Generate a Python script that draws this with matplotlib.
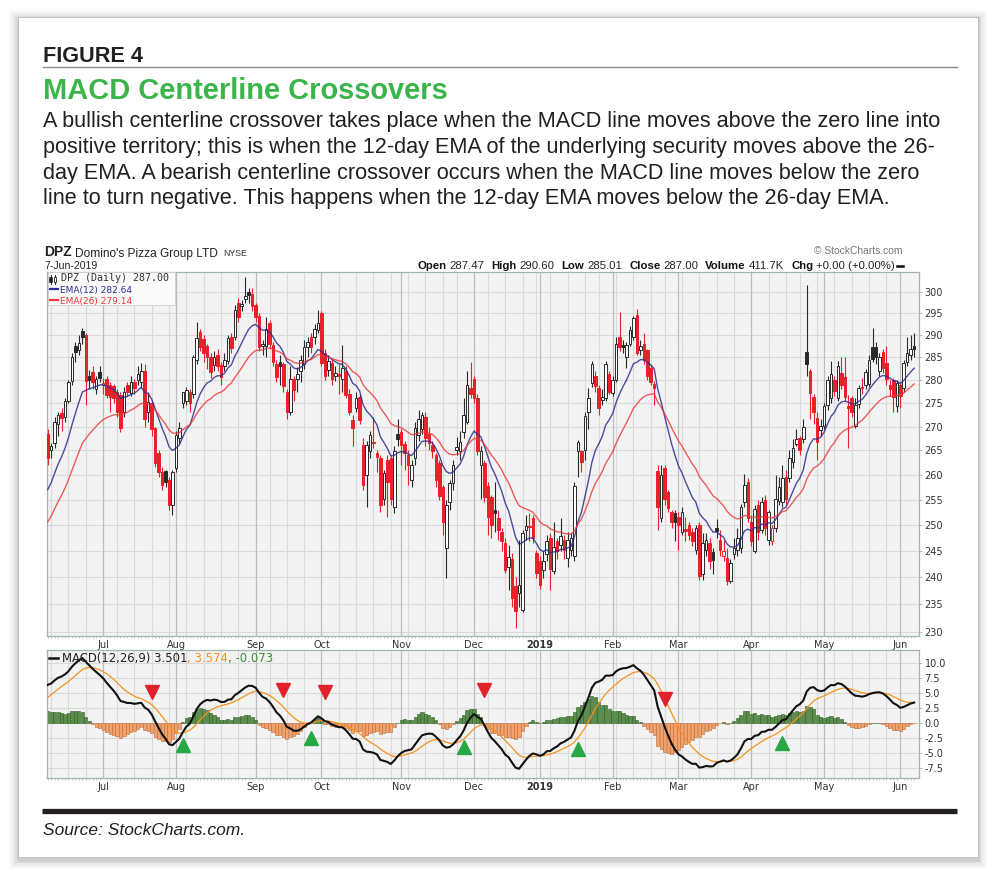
import numpy as np
import pandas as pd
import matplotlib
matplotlib.use("Agg")
import matplotlib.pyplot as plt
from matplotlib.patches import Rectangle
from matplotlib.lines import Line2D
from matplotlib.ticker import FixedLocator, FixedFormatter, NullLocator, NullFormatter
import warnings
import logging
warnings.filterwarnings("ignore")
logging.getLogger("matplotlib.font_manager").setLevel(logging.ERROR)

# ------------------------------------------------------------------ data
holidays = ["2018-07-04", "2018-09-03", "2018-11-22", "2018-12-05", "2018-12-25",
            "2019-01-01", "2019-01-21", "2019-02-18", "2019-04-19", "2019-05-27"]
dates = pd.bdate_range("2018-06-08", "2019-06-07", freq="C", holidays=holidays)

opens = [268.5, 265.0, 266.5, 270.5, 272.8, 272.0, 275.4, 279.8, 287.5, 286.6,
         291.0, 290.0, 281.0, 281.7, 278.0, 281.7, 279.0, 280.3, 278.9, 278.6,
         277.5, 276.8, 273.0, 279.0, 277.2, 279.5, 280.0, 279.6, 282.0, 273.2,
         275.0, 269.6, 264.5, 260.5, 260.8, 259.0, 254.0, 261.3, 267.5, 275.0,
         275.5, 277.5, 277.0, 284.5, 290.8, 289.2, 287.5, 285.2, 283.4, 285.5,
         283.4, 283.1, 284.1, 289.6, 289.6, 297.5, 296.6, 298.3, 300.0, 299.5,
         297.0, 294.5, 287.6,
         287.6, 292.8, 287.8, 283.6, 284.0, 283.6, 277.5,
         273.0, 280.3, 280.3, 282.0, 283.5, 287.3, 289.6, 289.6, 291.2, 295.0,
         285.9, 282.3, 283.7, 280.8, 281.2, 280.3, 282.0, 277.0, 271.3, 274.0,
         276.4, 266.1, 260.0, 264.8, 266.8, 264.4, 263.4, 255.2, 263.0, 263.4,
         253.6, 268.5, 268.8, 266.4, 264.0, 259.0, 263.4, 268.2, 269.5, 272.1,
         268.5, 266.1, 264.0, 262.5, 257.5, 245.5, 254.5, 258.3, 265.1, 264.8,
         268.9, 270.9, 278.3, 280.3, 276.0, 262.0,
         262.4, 257.7, 255.5, 253.0,
         251.3, 248.7, 246.5, 242.0, 243.5, 238.4, 237.0, 234.0, 249.0, 249.8,
         251.3, 244.6, 243.0, 241.4, 244.3, 247.5, 241.1, 246.8, 246.2, 247.1,
         243.7, 245.1, 244.0, 264.8, 264.8, 265.1, 273.2, 279.3, 281.0, 278.2,
         275.7, 276.1, 281.4, 277.2, 280.0, 289.6, 287.7, 285.1, 288.1, 289.6,
         294.7, 286.7, 288.1, 286.6, 282.7, 279.2, 260.7, 251.3, 261.3, 256.5,
         252.6, 252.3, 251.6, 248.7, 249.2, 250.0, 248.7, 245.2, 250.0, 240.5,
         245.1, 246.5, 244.8, 249.4, 247.0, 244.0, 243.6, 239.2, 244.3, 245.1,
         245.5, 254.5, 258.6, 250.6, 245.0, 254.0, 249.0, 255.0, 247.0, 246.8,
         249.4, 254.8, 254.5, 259.6, 259.3, 262.7, 266.4, 267.5, 267.3, 286.3,
         282.1, 276.4, 271.8, 269.2, 270.2, 274.6, 276.1, 280.0, 276.1, 281.5,
         280.7, 274.3, 276.0, 270.2, 274.8, 278.5, 279.0, 279.1, 287.3, 287.3,
         282.0, 286.3, 283.7, 279.0, 280.0, 274.4, 279.0, 278.2, 284.0, 285.5,
         287.47]

highs = [269.5, 266.5, 272.0, 273.0, 274.0, 276.0, 280.0, 286.0, 288.5, 290.0,
         291.6, 290.5, 282.2, 283.0, 281.0, 283.0, 280.5, 281.0, 279.5, 279.2,
         278.0, 277.5, 278.5, 279.6, 281.0, 280.2, 283.0, 283.8, 283.5, 277.5,
         275.5, 270.0, 265.0, 261.5, 261.0, 259.5, 261.0, 269.0, 271.0, 277.5,
         278.5, 278.0, 285.5, 293.0, 291.5, 290.0, 288.0, 286.0, 286.5, 286.8,
         284.0, 286.0, 290.0, 290.5, 297.0, 298.5, 298.0, 303.4, 301.0, 301.0,
         297.5, 295.0, 289.0,
         294.2, 293.5, 288.5, 284.5, 285.5, 284.0, 278.0,
         283.0, 281.0, 282.8, 285.5, 289.0, 289.5, 290.5, 292.5, 295.8, 295.5,
         287.0, 285.5, 284.5, 283.0, 283.5, 287.8, 283.0, 278.0, 272.5, 277.5,
         277.0, 267.5, 267.0, 269.0, 272.0, 265.0, 264.0, 261.0, 264.0, 264.0,
         266.0, 271.5, 269.5, 267.0, 265.0, 263.0, 271.0, 273.5, 273.2, 273.0,
         270.0, 267.0, 264.5, 263.0, 258.0, 255.0, 259.0, 263.0, 267.9, 269.0,
         276.0, 282.0, 284.0, 281.0, 277.0, 266.0,
         263.0, 258.5, 256.0, 258.5,
         253.0, 249.5, 247.5, 246.2, 244.5, 240.0, 247.0, 249.0, 252.0, 252.4,
         252.0, 245.2, 244.0, 244.9, 248.0, 248.5, 250.6, 247.5, 251.3, 248.0,
         248.7, 248.5, 258.5, 267.2, 265.0, 273.0, 278.2, 284.3, 282.0, 279.0,
         278.0, 284.2, 282.0, 281.0, 289.5, 295.4, 289.0, 288.5, 292.0, 294.5,
         296.0, 289.0, 290.4, 287.0, 283.5, 279.8, 262.0, 262.0, 262.0, 257.0,
         253.0, 253.0, 252.5, 253.5, 251.6, 250.5, 249.5, 250.0, 250.6, 248.5,
         248.5, 247.5, 245.5, 251.2, 249.0, 247.0, 245.5, 243.5, 247.5, 249.4,
         254.2, 260.2, 259.3, 252.0, 254.0, 255.0, 255.5, 256.0, 253.0, 250.0,
         260.0, 259.5, 262.0, 261.0, 265.0, 267.3, 269.5, 268.0, 271.5, 301.7,
         282.5, 277.0, 273.0, 271.5, 275.0, 281.0, 284.1, 281.0, 284.2, 285.0,
         285.0, 276.8, 276.5, 276.0, 279.0, 280.5, 282.5, 285.5, 291.6, 288.5,
         286.0, 287.0, 287.5, 280.0, 280.5, 280.0, 279.5, 284.5, 289.5, 290.0,
         290.60]

lows = [262.0, 263.5, 265.5, 268.0, 269.0, 271.0, 275.0, 279.0, 284.0, 285.5,
        288.0, 274.6, 278.0, 278.0, 277.0, 279.5, 277.0, 276.0, 273.2, 275.0,
        272.0, 268.8, 272.0, 276.5, 276.5, 277.0, 279.0, 278.5, 270.0, 271.0,
        268.0, 261.5, 259.5, 257.0, 257.5, 253.0, 252.0, 260.5, 266.5, 274.0,
        274.5, 273.0, 276.0, 283.5, 286.5, 284.0, 282.4, 280.5, 282.0, 282.0,
        279.0, 282.0, 283.5, 286.0, 289.0, 293.0, 295.5, 297.5, 297.5, 295.5,
        293.0, 286.5, 285.5,
        285.2, 287.0, 283.0, 279.5, 279.0, 277.5, 271.5,
        272.5, 275.5, 277.5, 279.5, 282.5, 285.0, 286.0, 288.0, 290.5, 283.0,
        280.0, 281.0, 279.0, 279.8, 277.0, 277.5, 276.0, 272.5, 266.0, 273.0,
        270.5, 257.0, 253.6, 263.5, 265.5, 260.5, 252.5, 254.0, 251.6, 254.0,
        252.4, 266.0, 262.0, 261.0, 258.0, 257.5, 262.0, 267.0, 268.5, 266.0,
        265.0, 263.5, 257.5, 255.0, 248.1, 239.8, 253.0, 257.0, 264.0, 263.0,
        267.5, 270.5, 276.0, 275.0, 264.0, 255.2,
        254.5, 248.0, 247.5, 248.7,
        247.0, 245.0, 240.8, 237.6, 234.5, 230.6, 234.5, 233.5, 247.0, 246.8,
        246.5, 239.8, 237.7, 239.8, 243.0, 237.6, 240.5, 243.5, 245.0, 243.5,
        242.0, 244.0, 243.0, 259.6, 260.5, 263.0, 269.5, 278.5, 277.5, 272.4,
        274.5, 275.5, 277.0, 276.5, 279.5, 286.5, 286.0, 282.7, 287.5, 289.0,
        285.5, 285.5, 283.5, 280.0, 279.0, 274.6, 249.0, 250.5, 254.0, 252.5,
        249.5, 246.8, 245.2, 248.0, 246.8, 247.0, 246.0, 244.3, 239.5, 239.5,
        244.0, 241.5, 240.5, 247.5, 244.0, 243.0, 238.6, 238.9, 243.5, 244.0,
        244.5, 253.5, 250.5, 246.0, 244.5, 247.0, 248.5, 248.0, 246.2, 246.2,
        248.7, 254.0, 253.5, 254.2, 258.6, 261.3, 266.0, 264.0, 266.5, 281.0,
        271.5, 270.5, 263.0, 268.0, 269.5, 273.5, 275.0, 276.5, 275.5, 278.0,
        275.5, 265.6, 272.0, 269.7, 274.0, 277.0, 278.0, 278.5, 284.0, 283.5,
        281.0, 281.5, 279.0, 276.5, 273.2, 273.0, 274.0, 277.5, 283.0, 284.5,
        285.01]

closes = [263.5, 266.0, 271.0, 272.4, 271.9, 275.4, 279.6, 285.2, 286.3, 288.2,
          289.6, 279.8, 280.0, 279.5, 280.3, 280.5, 279.3, 276.8, 276.3, 276.0,
          273.2, 269.6, 277.5, 277.3, 279.6, 278.2, 281.3, 282.0, 271.5, 275.3,
          269.5, 262.5, 260.5, 258.0, 258.5, 254.0, 260.6, 268.2, 269.8, 277.3,
          277.8, 275.0, 285.0, 289.3, 287.4, 285.9, 285.0, 281.7, 285.1, 283.1,
          280.7, 284.5, 289.3, 287.2, 295.8, 294.2, 297.1, 299.1, 299.2, 296.6,
          294.2, 287.4, 288.0,
          291.5, 288.0, 284.0, 280.7, 283.2, 278.6, 273.0,
          280.3, 277.9, 281.3, 284.4, 287.3, 288.4, 287.3, 291.5, 292.7, 283.7,
          281.0, 284.1, 280.3, 281.6, 281.0, 282.7, 276.8, 273.2, 269.8, 276.1,
          271.3, 258.0, 266.1, 268.2, 266.5, 263.6, 253.9, 260.3, 258.6, 255.2,
          264.8, 267.3, 266.1, 264.4, 262.0, 262.0, 269.8, 271.6, 272.4, 267.5,
          266.5, 264.8, 259.0, 255.8, 250.6, 253.9, 258.3, 262.1, 265.8, 266.8,
          272.4, 279.0, 276.9, 276.0, 264.8, 264.8,
          255.5, 251.6, 250.0, 252.4,
          249.0, 246.8, 241.4, 243.9, 236.1, 233.7, 238.5, 248.5, 249.8, 249.6,
          247.4, 240.8, 238.6, 243.0, 246.8, 241.5, 245.8, 244.9, 247.8, 245.2,
          247.1, 247.4, 257.8, 266.8, 262.7, 272.3, 276.1, 283.5, 278.6, 274.0,
          276.4, 283.5, 277.5, 280.0, 288.1, 287.4, 287.4, 287.7, 291.2, 293.9,
          285.9, 287.6, 284.4, 281.0, 279.6, 278.2, 253.6, 259.9, 255.2, 253.3,
          250.6, 250.6, 250.0, 252.6, 248.8, 248.1, 246.8, 249.4, 240.2, 246.5,
          247.1, 243.0, 243.3, 248.9, 245.1, 244.9, 239.2, 242.7, 245.5, 247.4,
          253.5, 258.0, 251.3, 246.8, 253.2, 248.7, 254.5, 249.4, 252.6, 249.4,
          255.2, 257.6, 259.3, 255.2, 263.5, 265.5, 267.3, 265.1, 269.9, 283.5,
          277.1, 273.2, 266.8, 270.2, 274.3, 280.0, 281.3, 277.7, 283.0, 279.0,
          276.4, 274.0, 273.0, 274.7, 278.3, 278.2, 281.8, 284.5, 284.6, 285.0,
          285.1, 282.7, 280.3, 278.0, 276.4, 279.3, 276.5, 283.7, 286.0, 287.0,
          287.00]

# indicator state at the first visible bar
ema12_start = 257.0
ema26_start = 250.6
signal_start = 4.3

# crossover markers in the MACD panel
bear_dates = ["2018-07-23", "2018-09-14", "2018-10-02", "2018-12-07", "2019-02-25"]
bear_vals = [5.3, 5.5, 5.3, 5.5, 4.0]
bull_dates = ["2018-08-03", "2018-09-26", "2018-11-28", "2019-01-17", "2019-04-12"]
bull_vals = [-3.6, -2.5, -3.9, -4.3, -3.3]

price_ticks = [230, 235, 240, 245, 250, 255, 260, 265, 270, 275, 280, 285, 290, 295, 300]
macd_ticks = [-7.5, -5.0, -2.5, 0.0, 2.5, 5.0, 7.5, 10.0]

para_lines = [
    "A bullish centerline crossover takes place when the MACD line moves above the zero line into",
    "positive territory; this is when the 12-day EMA of the underlying security moves above the 26-",
    "day EMA. A bearish centerline crossover occurs when the MACD line moves below the zero",
    "line to turn negative. This happens when the 12-day EMA moves below the 26-day EMA.",
]

# ------------------------------------------------------------------ derived
n = min(len(dates), len(closes))
dates = dates[:n]
O = np.array(opens[:n]); Hh = np.array(highs[:n]); L = np.array(lows[:n]); C = np.array(closes[:n])
x = np.arange(n)


def ema(vals, span, start):
    a = 2.0 / (span + 1.0)
    out = [start]
    for v in vals[1:]:
        out.append(out[-1] + a * (v - out[-1]))
    return np.array(out)


ema12 = ema(C, 12, ema12_start)
ema26 = ema(C, 26, ema26_start)
macd = ema12 - ema26
signal = ema(macd, 9, signal_start)
hist = macd - signal

month_idx = [i for i in range(1, n) if dates[i].month != dates[i - 1].month]
week_idx = [i for i in range(1, n)
            if dates[i].isocalendar()[1] != dates[i - 1].isocalendar()[1] and i not in month_idx]
month_lab = [("2019" if dates[i].month == 1 else dates[i].strftime("%b")) for i in month_idx]

# ------------------------------------------------------------------ figure
W, H = 1000, 880
fig = plt.figure(figsize=(W / 100, H / 100), dpi=100)
fig.patch.set_facecolor("white")
renderer = fig.canvas.get_renderer()


def fx(v):
    return v / W


def fy(v):
    return 1 - v / H


# card with soft shadow
for k, a in [(9, 0.025), (7, 0.04), (5, 0.05), (3, 0.07), (1.5, 0.09)]:
    fig.patches.append(Rectangle((fx(18 - k), fy(858 + k + 2)), (960 + 2 * k) / W, (841 + 2 * k) / H,
                                 transform=fig.transFigure, facecolor="#444444",
                                 edgecolor="none", alpha=a, zorder=-12))
fig.patches.append(Rectangle((fx(18), fy(857)), 960 / W, 840 / H, transform=fig.transFigure,
                             facecolor="white", edgecolor="#bdbdbd", lw=0.6, zorder=-10))

LS = ["Liberation Sans", "DejaVu Sans"]
DV = ["DejaVu Sans"]
MONO = ["DejaVu Sans Mono", "DejaVu Sans"]
INK = "#231f20"


def fit_text(xp, yp, s, target_w, **kw):
    t = fig.text(fx(xp), fy(yp), s, fontsize=10, va="baseline", ha="left", **kw)
    w = t.get_window_extent(renderer).width
    t.set_fontsize(10 * target_w / w)
    return t


fit_text(43, 61.7, "FIGURE 4", 100, family=LS, fontweight="bold", color=INK)
fig.add_artist(Line2D([fx(43), fx(957)], [fy(66.7), fy(66.7)], color="#8a8a8a", lw=1.0))
fit_text(43, 99, "MACD Centerline Crossovers", 405, family=LS, fontweight="bold", color="#3ab54a")
t0 = fit_text(43, 127.5, para_lines[0], 900, family=LS, color=INK)
psize = t0.get_fontsize()
for k, s in enumerate(para_lines[1:], start=1):
    fig.text(fx(43), fy(127.5 + 25.6 * k), s, fontsize=psize, family=LS, color=INK,
             va="baseline", ha="left")

fig.add_artist(Line2D([fx(42), fx(957)], [fy(811), fy(811)], color=INK, lw=3.8, solid_capstyle="butt"))
fit_text(43, 835, "Source: StockCharts.com.", 202, family=LS, style="italic", color=INK)


def seq_text(xp, yp, pieces, size, family, right=False, target=None):
    arts, cur = [], xp
    for s, kw, gap in pieces:
        kw = dict(kw)
        fs = kw.pop("fontsize", size)
        t = fig.text(fx(cur), fy(yp), s, fontsize=fs, family=family, va="baseline", ha="left", **kw)
        w = t.get_window_extent(renderer).width
        arts.append(t)
        cur += w + gap
    if target is not None:
        scale = target / (cur - xp)
        cur = xp
        for (s, kw, gap), t in zip(pieces, arts):
            t.set_fontsize(t.get_fontsize() * scale)
            t.set_position((fx(cur), fy(yp)))
            cur += t.get_window_extent(renderer).width + gap * scale
    if right:
        tot = cur - xp
        for t in arts:
            px0, py0 = t.get_position()
            t.set_position((px0 - tot / W, py0))
    return cur


# chart header
seq_text(44, 256.5, [("DPZ", dict(fontweight="bold", color="#222"), 0)], 10, LS, target=27.5)
seq_text(75, 256.5, [("Domino's Pizza Group LTD", dict(color="#222"), 5),
                     ("NYSE", dict(color="#333", fontsize=6.3), 0)], 8.6, LS)
seq_text(44, 268.5, [("7-Jun-2019", dict(color="#222"), 0)], 7.6, LS)
fig.text(fx(903), fy(254.5), "\u00a9 StockCharts.com", fontsize=7.4, family=LS, color="#777",
         ha="right", va="baseline")
bold = dict(fontweight="bold", color="#111")
norm = dict(color="#222")
seq_text(895, 268.5, [("Open", bold, 3), ("287.47", norm, 7), ("High", bold, 3), ("290.60", norm, 7),
                      ("Low", bold, 3), ("285.01", norm, 7), ("Close", bold, 3), ("287.00", norm, 7),
                      ("Volume", bold, 3), ("411.7K", norm, 7), ("Chg", bold, 3),
                      ("+0.00 (+0.00%)", norm, 0)], 8.2, LS, right=True)
fig.add_artist(Line2D([fx(897), fx(903)], [fy(265.5), fy(265.5)], color="#111", lw=1.8))

# ------------------------------------------------------------------ axes
BG = "#f3f3f3"
SP = "#9fb5ad"
GRID = "#dadada"
MGRID = "#bcbcbc"
XL = (-0.2, 251.4)

axp = fig.add_axes([fx(47), fy(636), 872 / W, (636 - 272) / H])
axm = fig.add_axes([fx(47), fy(778), 872 / W, (778 - 650) / H])

for ax in (axp, axm):
    ax.set_facecolor(BG)
    for s in ax.spines.values():
        s.set_color(SP)
        s.set_linewidth(0.9)
    ax.set_xlim(*XL)
    for i in week_idx:
        ax.axvline(i, color=GRID, lw=0.8, zorder=0.5)
    for i in month_idx:
        ax.axvline(i, color=MGRID, lw=0.9, zorder=0.6)
    ax.xaxis.set_major_locator(FixedLocator(month_idx))
    ax.xaxis.set_major_formatter(FixedFormatter(month_lab))
    ax.xaxis.set_minor_locator(FixedLocator(list(x)))
    ax.tick_params(axis="x", which="major", length=0, pad=3.2, labelsize=7, labelcolor="#333")
    ax.tick_params(axis="x", which="minor", length=1.6, width=0.5, color=SP, direction="out")
    for lab in ax.get_xticklabels():
        lab.set_family(DV)
        if lab.get_text() == "2019":
            lab.set_fontweight("bold")
    ax.yaxis.tick_right()
    ax.tick_params(axis="y", which="major", length=2.5, width=0.6, color=SP, pad=1.5,
                   labelsize=7, labelcolor="#333")

# ---- price panel
axp.set_yscale("log")
axp.set_ylim(229.2, 304.7)
axp.yaxis.set_major_locator(FixedLocator(price_ticks))
axp.yaxis.set_major_formatter(FixedFormatter([str(t) for t in price_ticks]))
axp.yaxis.set_minor_locator(NullLocator())
axp.yaxis.set_minor_formatter(NullFormatter())
for t in price_ticks:
    axp.axhline(t, color=GRID, lw=0.8, zorder=0.5)
for lab in axp.get_yticklabels():
    lab.set_family(DV)

BLACK = "#2a2a2a"
RED = "#e8202a"
prev = np.r_[O[0], C[:-1]]
is_red = C < prev
col = np.where(is_red, RED, BLACK)
hollow = C >= O
axp.vlines(x, L, Hh, colors=col, lw=0.8, zorder=2)
bot = np.minimum(O, C)
top = np.maximum(np.maximum(O, C), bot * 1.0009)
face = np.where(hollow, "white", col)
axp.bar(x, top - bot, bottom=bot, width=0.74, color=face, edgecolor=col, linewidth=0.7, zorder=3)
axp.plot(x, ema12, color="#2e2e90", lw=1.0, alpha=0.85, zorder=4)
axp.plot(x, ema26, color="#ec3535", lw=1.0, alpha=0.8, zorder=4)

# price legend box
fig.add_artist(Rectangle((fx(47.5), fy(305)), 127 / W, 32.5 / H, transform=fig.transFigure,
                         facecolor="#fafafa", edgecolor="#cfcfcf", lw=0.6, zorder=2.5))
fig.add_artist(Line2D([fx(50.5), fx(50.5)], [fy(275), fy(284)], color="#222", lw=0.7, zorder=2.6))
fig.add_artist(Rectangle((fx(49.3), fy(282.5)), 2.4 / W, 5 / H, transform=fig.transFigure,
                         facecolor="#222", edgecolor="#222", lw=0.5, zorder=2.7))
fig.add_artist(Line2D([fx(55), fx(55)], [fy(275.5), fy(284)], color="#222", lw=0.7, zorder=2.6))
fig.add_artist(Rectangle((fx(53.8), fy(282)), 2.4 / W, 4.5 / H, transform=fig.transFigure,
                         facecolor="white", edgecolor="#222", lw=0.6, zorder=2.7))
seq_text(61, 281.3, [("DPZ (Daily) 287.00", dict(color="#333"), 0)], 7.0, MONO, target=109)
fig.add_artist(Line2D([fx(50), fx(58)], [fy(289), fy(289)], color="#2e2e90", lw=1.6, zorder=2.7))
seq_text(59.5, 292.5, [("EMA(12) 282.64", dict(color="#2e2e90"), 0)], 7.0, DV, target=73)
fig.add_artist(Line2D([fx(50), fx(58)], [fy(300), fy(300)], color="#ec3535", lw=1.6, zorder=2.7))
seq_text(59.5, 303.5, [("EMA(26) 279.14", dict(color="#ec3535"), 0)], 7.0, DV, target=73)

# ---- MACD panel
axm.set_ylim(-9.12, 12.22)
axm.yaxis.set_major_locator(FixedLocator(macd_ticks))
axm.yaxis.set_major_formatter(FixedFormatter(["%.1f" % t for t in macd_ticks]))
for t in macd_ticks:
    axm.axhline(t, color=GRID, lw=0.8, zorder=0.5)
for lab in axm.get_yticklabels():
    lab.set_family(DV)

pos = hist >= 0
axm.bar(x[pos], hist[pos], width=0.9, color="#5a8f4a", edgecolor="#2f5d27", linewidth=0.4, zorder=2)
axm.bar(x[~pos], hist[~pos], width=0.9, color="#f4a066", edgecolor="#b8693a", linewidth=0.4, zorder=2)
axm.plot(x, signal, color="#f7921e", lw=0.9, zorder=3)
axm.plot(x, macd, color="#111111", lw=1.5, zorder=4)

bear_x = [dates.get_loc(pd.Timestamp(d)) for d in bear_dates]
bull_x = [dates.get_loc(pd.Timestamp(d)) for d in bull_dates]
axm.plot(bear_x, bear_vals, linestyle="none", marker="v", markersize=9.5, color="#e3212b", zorder=5)
axm.plot(bull_x, bull_vals, linestyle="none", marker="^", markersize=9.5, color="#27a844", zorder=5)

fig.add_artist(Line2D([fx(48.5), fx(57.5)], [fy(658.3), fy(658.3)], color="#111", lw=1.8, zorder=5))
seq_text(61.5, 661.8, [("MACD(12,26,9) 3.501", dict(color="#222"), 0),
                       (", 3.574", dict(color="#f7921e"), 0),
                       (", -0.073", dict(color="#3f8f3a"), 0)], 7.6, DV, target=211)

fig.savefig("out.png", dpi=100, facecolor="white")
